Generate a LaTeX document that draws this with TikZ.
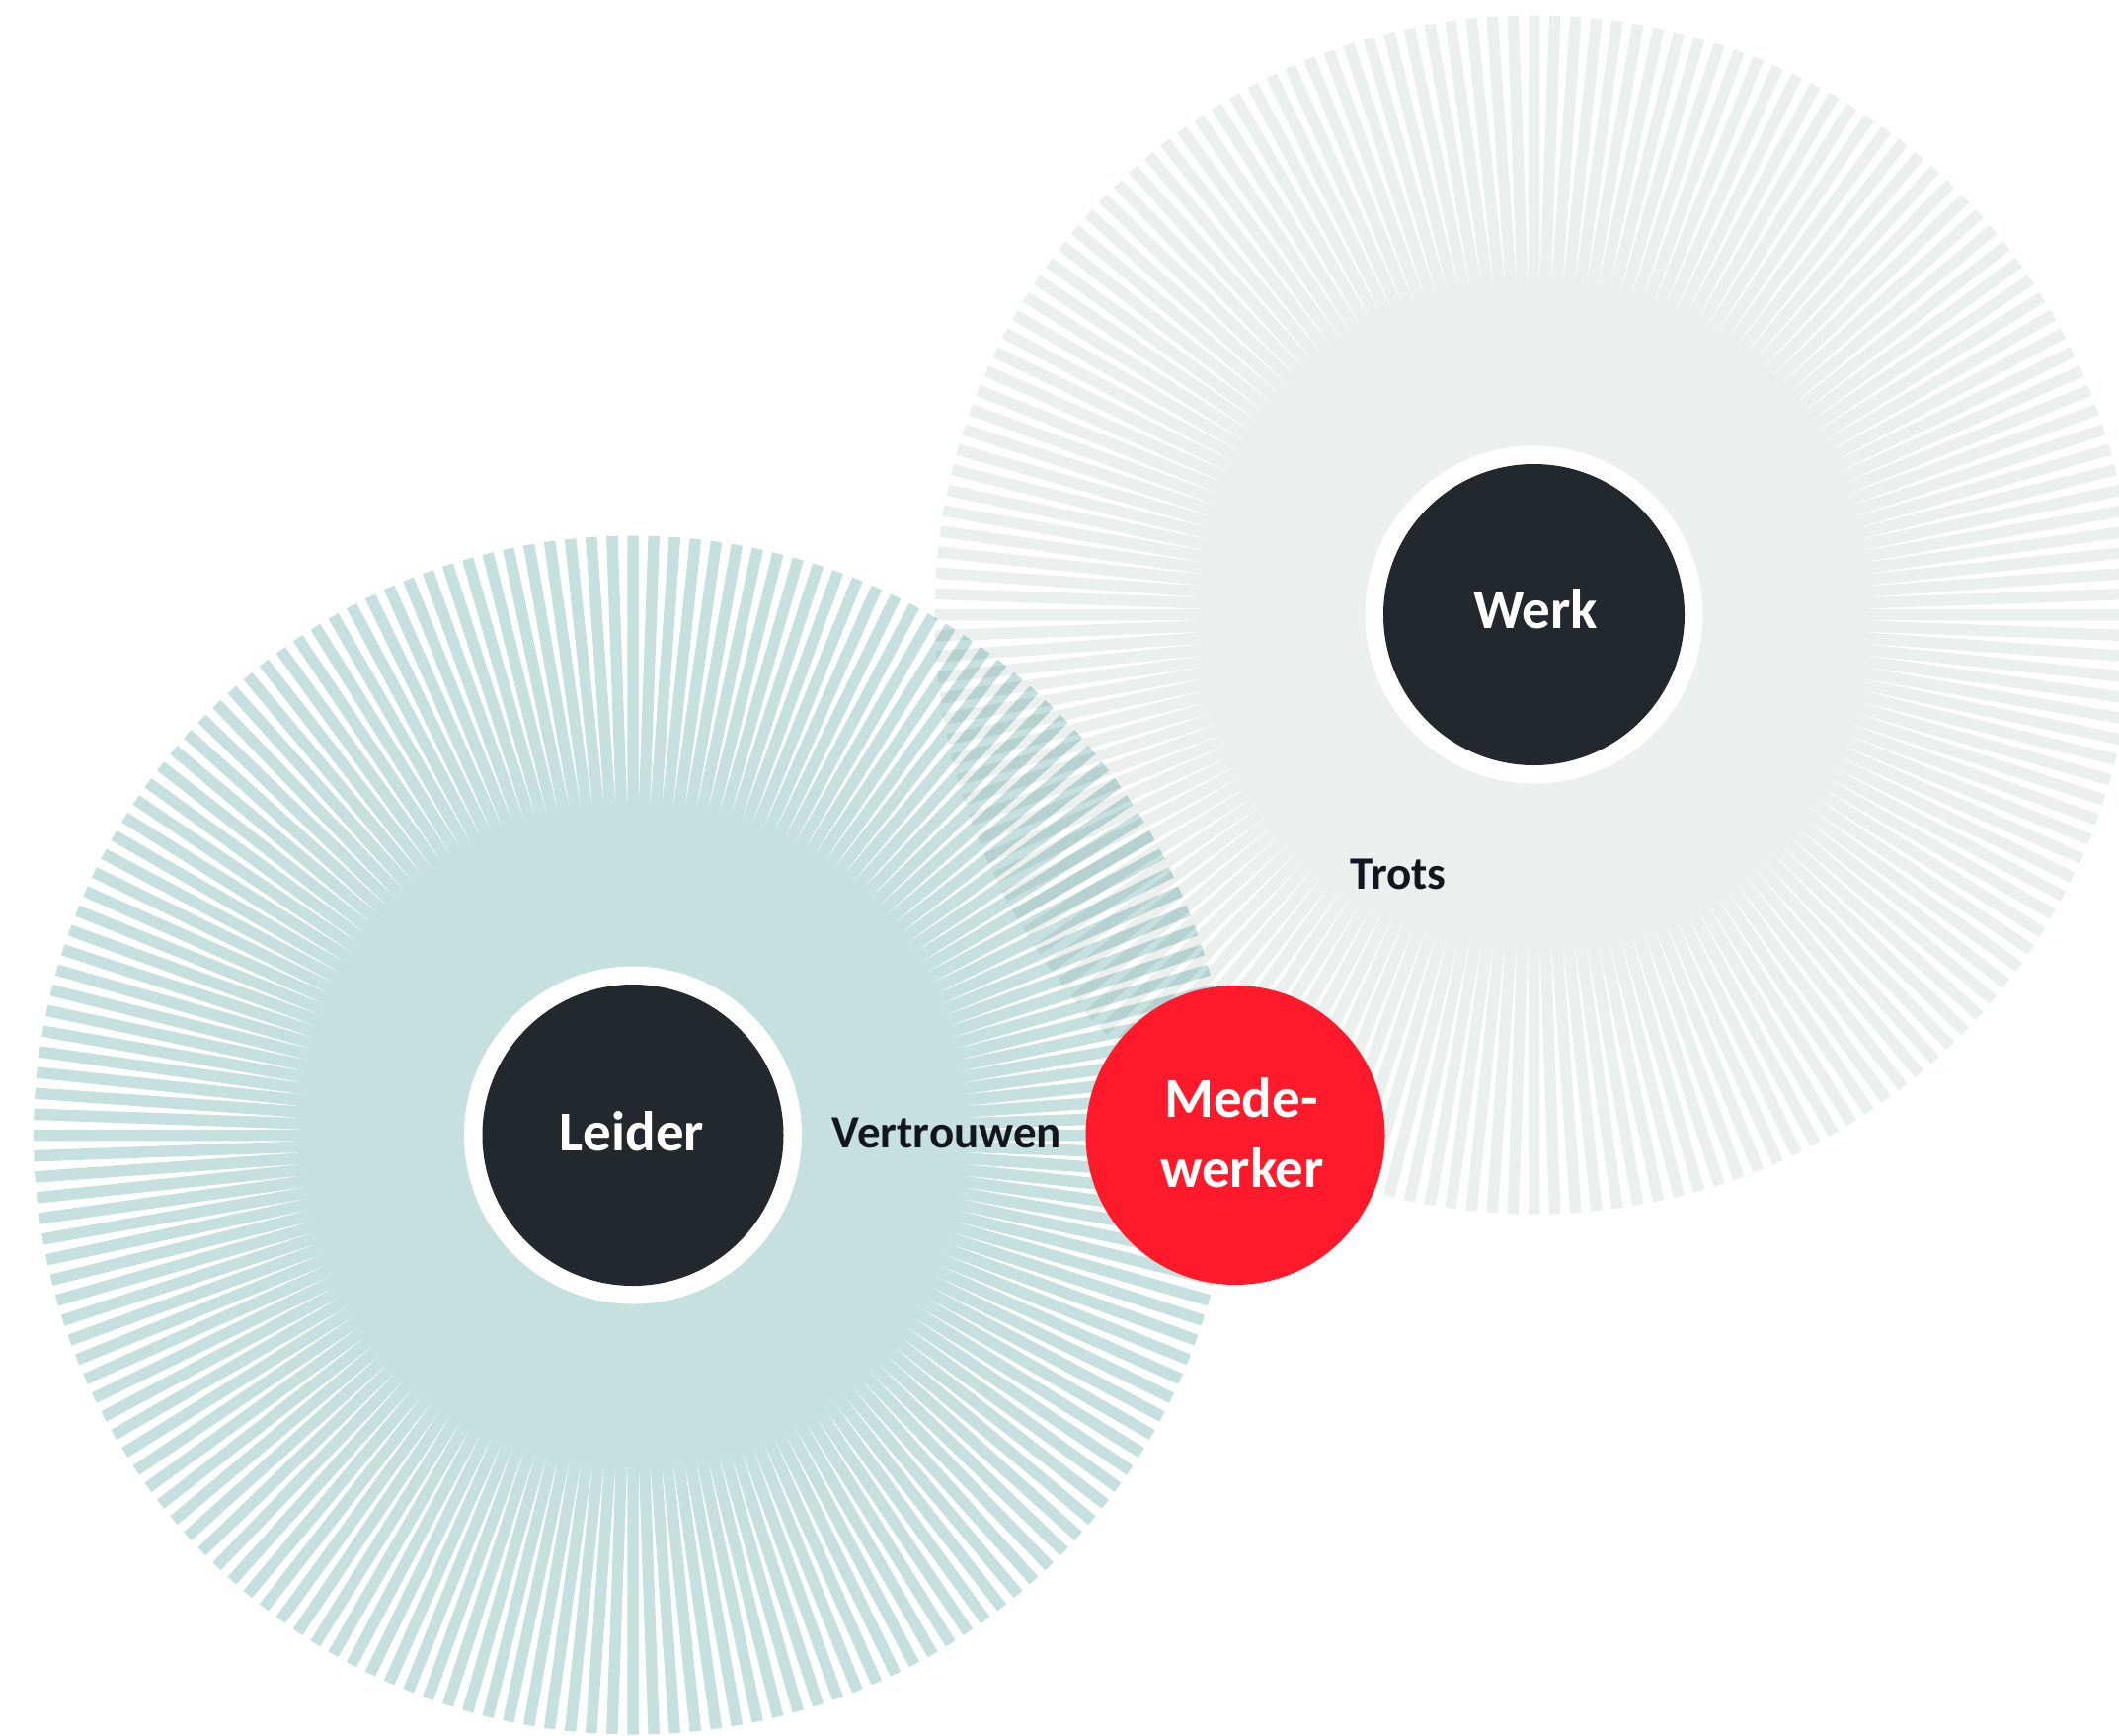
\documentclass[tikz,border=0pt]{standalone}
\usepackage{fontspec}
\setmainfont{Carlito}
\definecolor{tealray}{RGB}{197,224,223}
\definecolor{greyray}{RGB}{235,239,238}
\definecolor{darkcirc}{RGB}{35,39,46}
\definecolor{redcirc}{RGB}{255,26,43}
\definecolor{labeltext}{RGB}{20,22,30}
\tikzset{
  rays/.style={line width=11.5pt, line cap=butt},
  ring/.style={circle, fill=white, minimum size=342pt, inner sep=0pt},
  hub/.style={circle, fill=darkcirc, minimum size=305pt, inner sep=0pt},
  person/.style={circle, fill=redcirc, minimum size=303pt, inner sep=0pt},
  hubtext/.style={font=\bfseries\fontsize{57}{71}\selectfont, text=white, inner sep=0pt, anchor=base},
  lbl/.style={font=\bfseries\fontsize{47}{56}\selectfont, text=labeltext, inner sep=0pt, anchor=base}
}
\begin{document}
\begin{tikzpicture}[x=1pt,y=-1pt]
\useasboundingbox (0,0) rectangle (2146,1757);
\clip (0,0) rectangle (2146,1757);
\coordinate (Wc) at (1553.5,622.5);
\coordinate (Lc) at (641,1149.5);
\coordinate (Mc) at (1251,1149.5);
% sunbursts
\draw[rays, greyray] foreach \a in {0,2,...,358} {(Wc) -- ++(\a:607)};
\begin{scope}[blend mode=multiply]
\draw[rays, tealray] foreach \a in {0,2,...,358} {(Lc) -- ++(\a:607)};
\end{scope}
% circles
\node[ring] (Wring) at (Wc) {};
\node[hub] (W) at (Wc) {};
\node[ring] (Lring) at (Lc) {};
\node[hub] (L) at (Lc) {};
\node[person] (M) at (Mc) {};
% texts
\node[hubtext] (Wtext) at (1555,636) {Werk};
\node[hubtext] (Ltext) at (640,1165) {Leider};
\node[hubtext] (Mtext1) at (1257,1131) {Mede-};
\node[hubtext] (Mtext2) at (1258,1202) {werker};
\node[lbl] (vertrouwen) at (959,1162) {Vertrouwen};
\node[lbl] (trots) at (1416,900) {Trots};
\end{tikzpicture}
\end{document}
